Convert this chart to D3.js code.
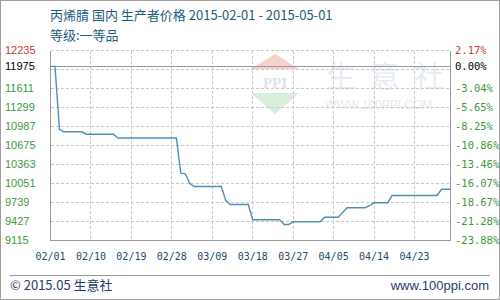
<!DOCTYPE html>
<html>
<head>
<meta charset="utf-8">
<style>
  html, body { margin: 0; padding: 0; background: #fff; }
  svg { display: block; }
</style>
<script src="https://cdn.jsdelivr.net/npm/d3@7"></script>
</head>
<body>
<svg id="chart" width="500" height="300"></svg>
<script>
(function () {
  'use strict';

  // ---- Data ----
  var TITLE = '丙烯腈 国内 生产者价格 2015-02-01 - 2015-05-01';
  var SUBTITLE = '等级:一等品';
  var BASE_VALUE = 11975;

  var dates = [
    '2015-02-01', '2015-02-02', '2015-02-03', '2015-02-04', '2015-02-08',
    '2015-02-09', '2015-02-15', '2015-02-16', '2015-03-01', '2015-03-02',
    '2015-03-03', '2015-03-04', '2015-03-05', '2015-03-11', '2015-03-12',
    '2015-03-13', '2015-03-17', '2015-03-18', '2015-03-24', '2015-03-25',
    '2015-03-26', '2015-03-27', '2015-04-02', '2015-04-03', '2015-04-06',
    '2015-04-07', '2015-04-08', '2015-04-12', '2015-04-13', '2015-04-14',
    '2015-04-17', '2015-04-18', '2015-04-28', '2015-04-29', '2015-05-01'
  ];
  var prices = [
    11975, 11975, 10935, 10900, 10900,
    10860, 10860, 10798, 10798, 10220,
    10210, 10050, 10002, 10002, 9772,
    9706, 9706, 9455, 9455, 9378,
    9378, 9422, 9422, 9498, 9498,
    9575, 9652, 9652, 9690, 9734,
    9734, 9854, 9854, 9957, 9957
  ];

  // grid lines (every 312) and the labelled values
  var gridValues = [9115, 9427, 9739, 10051, 10363, 10675, 10987, 11299, 11611, 11923, 12235];
  var yLabels = [12235, 11975, 11611, 11299, 10987, 10675, 10363, 10051, 9739, 9427, 9115];
  var xTickDates = [
    '2015-02-01', '2015-02-10', '2015-02-19', '2015-02-28', '2015-03-09',
    '2015-03-18', '2015-03-27', '2015-04-05', '2015-04-14', '2015-04-23'
  ];

  var parse = d3.timeParse('%Y-%m-%d');
  var fmtTick = d3.timeFormat('%m/%d');

  var series = dates.map(function (d, i) {
    return { date: parse(d), value: prices[i] };
  });

  // ---- Layout ----
  var svg = d3.select('#chart');
  var left = 50.5, right = 450.5, top = 50.5, bottom = 240.5;

  var x = d3.scaleTime()
    .domain([parse('2015-02-01'), parse('2015-05-01')])
    .range([left, right]);

  var y = d3.scaleLinear()
    .domain([9115, 12235])
    .range([bottom, top]);

  // outer frame
  svg.append('rect')
    .attr('x', 0.5).attr('y', 0.5)
    .attr('width', 499).attr('height', 299)
    .attr('fill', '#fff')
    .attr('stroke', '#a0a0a0');

  // ---- Titles ----
  svg.append('text')
    .attr('x', 50).attr('y', 20)
    .attr('font-family', "'Noto Sans CJK SC', sans-serif")
    .attr('font-size', 13)
    .attr('fill', '#1d5c7e')
    .text(TITLE);

  svg.append('text')
    .attr('x', 50).attr('y', 40)
    .attr('font-family', "'Noto Sans CJK SC', sans-serif")
    .attr('font-size', 13)
    .attr('fill', '#1d5c7e')
    .text(SUBTITLE);

  // ---- Watermark ----
  var wm = svg.append('g');
  wm.append('path')
    .attr('d', 'M275,54 L299,69 L251,69 Z')
    .attr('fill', '#f6d0cb');
  wm.append('text')
    .attr('x', 275).attr('y', 88)
    .attr('text-anchor', 'middle')
    .attr('font-family', "'Liberation Serif', serif")
    .attr('font-weight', 'bold')
    .attr('font-size', 15)
    .attr('fill', '#dbe2f0')
    .text('PPI');
  wm.append('path')
    .attr('d', 'M251,93 L299,93 L275,114 Z')
    .attr('fill', '#d8eedb');
  wm.append('text')
    .attr('x', 326).attr('y', 87)
    .attr('font-family', "'Noto Sans CJK SC', sans-serif")
    .attr('font-size', 30)
    .attr('letter-spacing', 14)
    .attr('fill', '#e6ebf3')
    .text('生意社');
  wm.append('text')
    .attr('x', 325).attr('y', 109)
    .attr('font-family', "'Liberation Sans', sans-serif")
    .attr('font-size', 12)
    .attr('fill', '#e8e8e8')
    .text('WWW.100PPI.COM');

  // ---- Grid ----
  var grid = svg.append('g')
    .attr('stroke', '#c8c8c8')
    .attr('stroke-dasharray', '3,2')
    .attr('shape-rendering', 'crispEdges');

  grid.selectAll('line.h')
    .data(gridValues)
    .enter()
    .append('line')
    .attr('class', 'h')
    .attr('x1', left).attr('x2', right)
    .attr('y1', function (d) { return Math.round(y(d) - 0.5) + 0.5; })
    .attr('y2', function (d) { return Math.round(y(d) - 0.5) + 0.5; });

  grid.selectAll('line.v')
    .data(xTickDates.slice(1))
    .enter()
    .append('line')
    .attr('class', 'v')
    .attr('y1', top).attr('y2', bottom)
    .attr('x1', function (d) { return Math.round(x(parse(d)) - 0.5) + 0.5; })
    .attr('x2', function (d) { return Math.round(x(parse(d)) - 0.5) + 0.5; });

  // plot frame (left, right, bottom) and base line
  var frame = svg.append('g')
    .attr('stroke', '#999')
    .attr('shape-rendering', 'crispEdges');
  frame.append('line').attr('x1', left).attr('x2', left).attr('y1', top).attr('y2', bottom);
  frame.append('line').attr('x1', right).attr('x2', right).attr('y1', top).attr('y2', bottom);
  frame.append('line').attr('x1', left).attr('x2', right).attr('y1', bottom).attr('y2', bottom);
  frame.append('line')
    .attr('x1', left).attr('x2', right)
    .attr('y1', Math.round(y(BASE_VALUE) - 0.5) + 0.5)
    .attr('y2', Math.round(y(BASE_VALUE) - 0.5) + 0.5);

  // ---- Price line ----
  var line = d3.line()
    .x(function (d) { return x(d.date); })
    .y(function (d) { return y(d.value); });

  svg.append('path')
    .datum(series)
    .attr('d', line)
    .attr('fill', 'none')
    .attr('stroke', '#4e8fb6')
    .attr('stroke-width', 1.4);

  // ---- Y labels (left: price, right: change vs base) ----
  function labelColor(v) {
    if (v > BASE_VALUE) return '#c83c3c';
    if (v === BASE_VALUE) return '#000';
    return '#3c9a3c';
  }

  svg.append('g')
    .selectAll('text')
    .data(yLabels)
    .enter()
    .append('text')
    .attr('x', 5)
    .attr('y', function (d) { return y(d) + 3.5; })
    .attr('font-family', "'Liberation Sans', sans-serif")
    .attr('font-size', 11)
    .attr('fill', labelColor)
    .text(function (d) { return d; });

  svg.append('g')
    .selectAll('text')
    .data(yLabels)
    .enter()
    .append('text')
    .attr('x', 455)
    .attr('y', function (d) { return y(d) + 3.5; })
    .attr('font-family', "'DejaVu Sans Mono', monospace")
    .attr('font-size', 10.5)
    .attr('fill', labelColor)
    .text(function (d) {
      return ((d - BASE_VALUE) / BASE_VALUE * 100).toFixed(2) + '%';
    });

  // ---- X labels ----
  svg.append('g')
    .selectAll('text')
    .data(xTickDates)
    .enter()
    .append('text')
    .attr('x', function (d) { return x(parse(d)); })
    .attr('y', 260)
    .attr('text-anchor', 'middle')
    .attr('font-family', "'DejaVu Sans Mono', monospace")
    .attr('font-size', 10)
    .attr('fill', '#1e4a6e')
    .text(function (d) { return fmtTick(parse(d)); });

  // ---- Footer ----
  svg.append('line')
    .attr('x1', 10).attr('x2', 490)
    .attr('y1', 275.5).attr('y2', 275.5)
    .attr('stroke', '#999')
    .attr('shape-rendering', 'crispEdges');

  svg.append('text')
    .attr('x', 10).attr('y', 290)
    .attr('font-family', "'Noto Sans CJK SC', sans-serif")
    .attr('font-size', 13)
    .attr('fill', '#1f3d6b')
    .text('© 2015.05 生意社');

  svg.append('text')
    .attr('x', 489).attr('y', 290)
    .attr('text-anchor', 'end')
    .attr('font-family', "'Liberation Sans', sans-serif")
    .attr('font-size', 13)
    .attr('fill', '#1f3d6b')
    .text('www.100ppi.com');
})();
</script>
</body>
</html>
